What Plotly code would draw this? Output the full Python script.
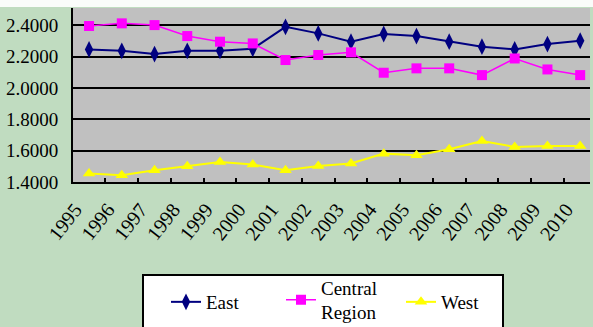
import plotly.graph_objects as go

years = [str(y) for y in range(1995, 2011)]
east = [2.246, 2.237, 2.216, 2.237, 2.237, 2.250, 2.390, 2.348, 2.295, 2.344,
        2.331, 2.295, 2.263, 2.246, 2.280, 2.301]
central = [2.395, 2.412, 2.401, 2.331, 2.295, 2.284, 2.178, 2.210, 2.227, 2.097,
           2.125, 2.125, 2.082, 2.188, 2.118, 2.082]
west = [1.454, 1.443, 1.475, 1.500, 1.528, 1.511, 1.475, 1.502, 1.518, 1.581,
        1.571, 1.609, 1.662, 1.624, 1.630, 1.630]
y_ticks = [1.4, 1.6, 1.8, 2.0, 2.2, 2.4]
y_labels = ["1.4000", "1.6000", "1.8000", "2.0000", "2.2000", "2.4000"]

FONT = '"Liberation Serif", "Times New Roman", Times, serif'
xs = list(range(len(years)))

W, H = 593, 327
plot_top, plot_bottom, plot_left, plot_right = 8, 182, 73, 590
ph = plot_bottom - plot_top
pw = plot_right - plot_left


def px_x(p):
    return (p - plot_left) / pw


def px_y(p):
    return (plot_bottom - p) / ph


fig = go.Figure()
fig.add_trace(go.Scatter(x=xs, y=east, name="East", mode="lines+markers",
                         line=dict(color="#000080", width=2),
                         marker=dict(symbol="diamond-tall", size=12, color="#000080"),
                         legend="legend"))
fig.add_trace(go.Scatter(x=xs, y=central, name="Central<br>Region", mode="lines+markers",
                         line=dict(color="#ff00ff", width=1.5),
                         marker=dict(symbol="square", size=10, color="#ff00ff"),
                         legend="legend2"))
fig.add_trace(go.Scatter(x=xs, y=west, name="West", mode="lines+markers",
                         line=dict(color="#ffff00", width=2),
                         marker=dict(symbol="triangle-up", size=11, color="#ffff00"),
                         legend="legend3"))

leg_common = dict(xanchor="left", yanchor="middle", bgcolor="rgba(0,0,0,0)",
                  borderwidth=0, font=dict(family=FONT, size=19, color="black"),
                  valign="middle")

fig.update_layout(
    width=W, height=H,
    margin=dict(l=plot_left, r=W - plot_right, t=plot_top, b=H - plot_bottom,
                autoexpand=False),
    paper_bgcolor="#c0dcc0",
    plot_bgcolor="#c0c0c0",
    font=dict(family=FONT, color="black"),
    showlegend=True,
    legend=dict(x=px_x(166), y=px_y(302), **leg_common),
    legend2=dict(x=px_x(281), y=px_y(300), **leg_common),
    legend3=dict(x=px_x(401), y=px_y(302), **leg_common),
    xaxis=dict(range=[-0.49, 15.3], tickmode="array", tickvals=xs, ticktext=years,
               tickangle=-52, tickfont=dict(family=FONT, size=20),
               showgrid=False, zeroline=False, showline=True, linecolor="black",
               linewidth=2, ticks="", ticklabelstandoff=6, ticklabelshift=-14,
               automargin=False),
    yaxis=dict(range=[1.4, 2.51], tickmode="array", tickvals=y_ticks, ticktext=y_labels,
               tickfont=dict(family=FONT, size=19), showgrid=True, gridcolor="black",
               gridwidth=1.5, zeroline=False, showline=True, linecolor="black",
               linewidth=2, ticks="", ticklabelstandoff=9, automargin=False),
    shapes=[
        # legend frame
        dict(type="rect", xref="paper", yref="paper",
             x0=px_x(143), x1=px_x(503), y0=px_y(340), y1=px_y(275),
             fillcolor="white", line=dict(color="black", width=2), layer="below"),
        # light strip along the top edge
        dict(type="rect", xref="paper", yref="paper",
             x0=px_x(0), x1=px_x(W), y0=px_y(7), y1=px_y(-2),
             fillcolor="#fafcfa", line=dict(width=0), layer="below"),
    ],
)
fig.update_xaxes(minor=dict(tickvals=[i + 0.5 for i in range(len(years))], ticks="inside",
                            ticklen=4, tickcolor="black", tickwidth=1.5))
fig.write_html("out.html", config={"displayModeBar": False},
               post_script="document.body.style.margin='0';document.body.style.padding='0';")
